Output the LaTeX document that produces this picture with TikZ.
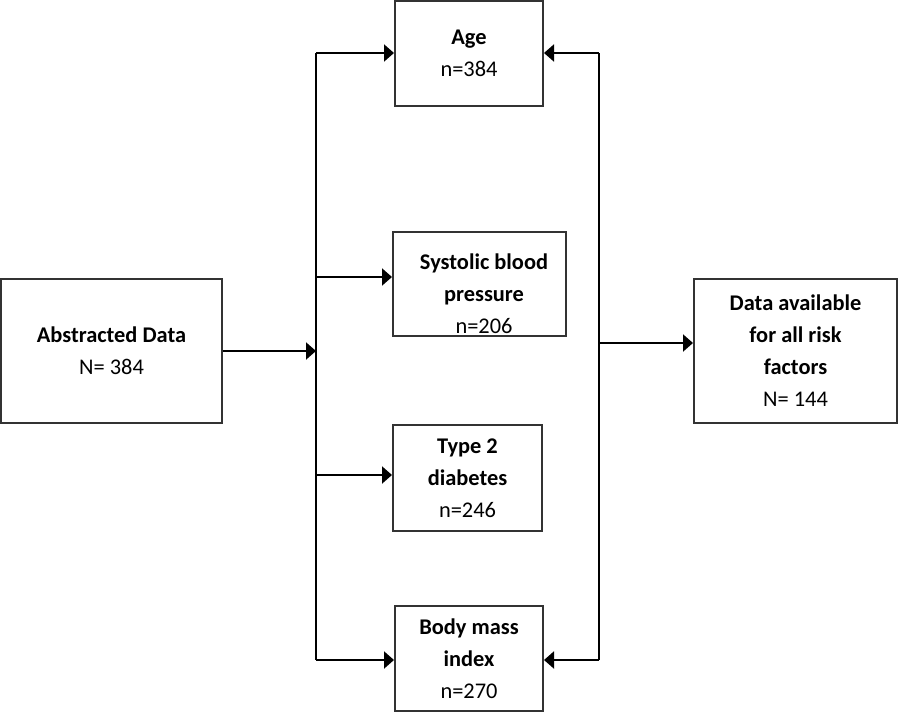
\documentclass[tikz,border=0pt]{standalone}
\usepackage{fontspec}
\setmainfont{Carlito}
\usetikzlibrary{arrows.meta}
\tikzset{>={Triangle[length=5pt,width=8.5pt]}}
\tikzset{txt/.style={inner sep=0pt, align=center, font=\fontsize{11.2}{16}\selectfont},
    box/.style={txt, draw=black!80, line width=1pt}}

\begin{document}
\begin{tikzpicture}[x=0.5pt, y=-0.5pt, line width=1pt]
    \useasboundingbox (0,0) rectangle (898,712);
    \node[box, minimum width=110.5pt, minimum height=72pt] (abs) at (111.5,351) {\textbf{Abstracted Data}\\N= 384};
    \node[box, minimum width=74pt, minimum height=52.5pt] (age) at (469,53.5) {\textbf{Age}\\n=384};
    \node[box, minimum width=86.5pt, minimum height=52pt] (sbp) at (479.5,284) {};
    \node[txt] (sbptxt) at (484,294) {\textbf{Systolic blood}\\\textbf{pressure}\\n=206};
    \node[box, minimum width=74.5pt, minimum height=53pt] (t2d) at (467.5,478) {\textbf{Type 2}\\\textbf{diabetes}\\n=246};
    \node[box, minimum width=74pt, minimum height=52.5pt] (bmi) at (469,658.5) {\textbf{Body mass}\\\textbf{index}\\n=270};
    \node[box, minimum width=101.5pt, minimum height=72pt] (dat) at (795.5,351) {\textbf{Data available}\\\textbf{for all risk}\\\textbf{factors}\\N= 144};
    \coordinate (lt) at (316,53);
    \coordinate (la) at (316,351);
    \coordinate (l2) at (316,277);
    \coordinate (l3) at (316,475);
    \coordinate (lb) at (316,660);
    \coordinate (rt) at (599,53);
    \coordinate (rm) at (599,343);
    \coordinate (rb) at (599,660);
    \draw (lt) -- (lb);
    \draw (rt) -- (rb);
    \draw[->] (abs.east |- la) -- (la);
    \draw[->] (lt) -- (lt -| age.west);
    \draw[->] (l2) -- (l2 -| sbp.west);
    \draw[->] (l3) -- (l3 -| t2d.west);
    \draw[->] (lb) -- (lb -| bmi.west);
    \draw[->] (rt) -- (rt -| age.east);
    \draw[->] (rb) -- (rb -| bmi.east);
    \draw[->] (rm) -- (rm -| dat.west);
\end{tikzpicture}
\end{document}
